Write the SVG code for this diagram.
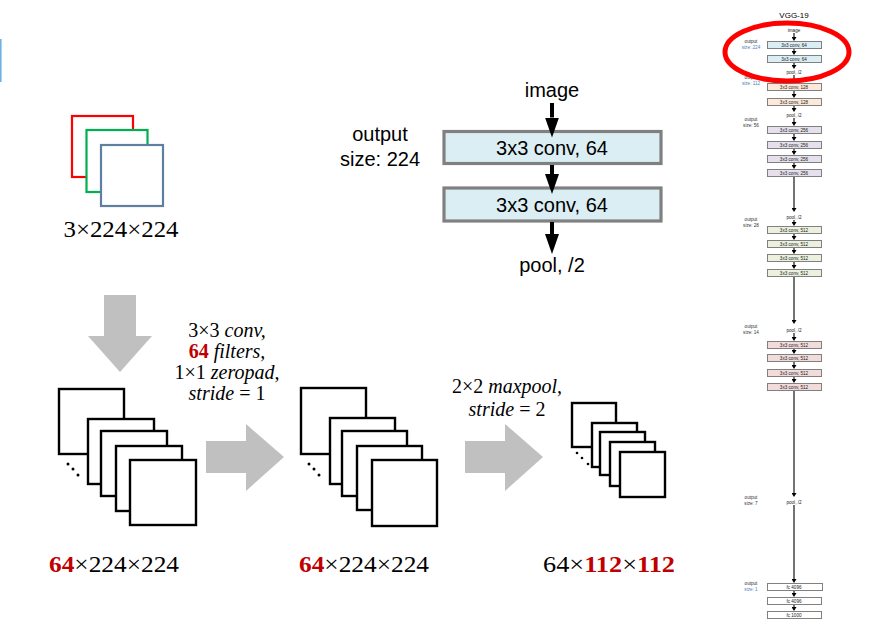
<svg xmlns="http://www.w3.org/2000/svg" width="885" height="625" viewBox="0 0 885 625">
<style>
.sq{fill:#fff;stroke:#000;stroke-width:2.4}
.big{fill:#c0c0c0}
.math{font-family:"Liberation Serif","DejaVu Serif",serif;font-size:20px;fill:#000;text-anchor:middle}
.it{font-style:italic}
.red{fill:#c00000;font-weight:bold}
.dim{font-family:"Liberation Serif","DejaVu Serif",serif;font-size:23px;fill:#000}
.sans{font-family:"Liberation Sans","Arial",sans-serif;fill:#000;text-anchor:middle}
.conv{fill:#dbeef4;stroke:#808080;stroke-width:3.2}
.s{font-family:"Liberation Sans","Arial",sans-serif;font-size:4.6px;fill:#222;text-anchor:middle}
.sl{font-family:"Liberation Sans","Arial",sans-serif;font-size:4.6px;fill:#333;text-anchor:middle}
.sb{stroke:#808080;stroke-width:1}
.c64{fill:#dbeef4}.c128{fill:#fde9d9}.c256{fill:#e5e0ec}.c512a{fill:#ebf1de}.c512b{fill:#f2dcdb}.fc{fill:#fff}
.ln{stroke:#000;stroke-width:4;fill:none}
.sln{stroke:#000;stroke-width:1.1;fill:none}
</style>
<defs>
<marker id="ah" viewBox="0 0 20 14" markerWidth="20" markerHeight="14" refX="0" refY="7" orient="auto" markerUnits="userSpaceOnUse"><path d="M0,0 L20,7 L0,14 Z" fill="#000"/></marker>
<marker id="sah" viewBox="0 0 4 5" markerWidth="4" markerHeight="5" refX="0" refY="2.5" orient="auto" markerUnits="userSpaceOnUse"><path d="M0,0 L4,2.5 L0,5 Z" fill="#000"/></marker>
</defs>

<rect x="0" y="39" width="1.6" height="43" fill="#72b2e2"/>

<g id="input-image">
<rect x="72" y="116" width="61" height="61" fill="none" stroke="#ff0000" stroke-width="2.2"/>
<rect x="86.5" y="130" width="61" height="62" fill="#fff" stroke="#00b050" stroke-width="2.2"/>
<rect x="101" y="145" width="62" height="61" fill="#fff" stroke="#5f7f9f" stroke-width="2.2"/>
<text class="dim" x="121" y="237" text-anchor="middle" textLength="115" lengthAdjust="spacingAndGlyphs">3×224×224</text>
</g>

<g id="conv-stack">
<rect class="sq" x="59" y="389" width="65" height="65"/>
<rect class="sq" x="88" y="419" width="66" height="65"/>
<rect class="sq" x="101" y="431" width="66" height="65"/>
<rect class="sq" x="116" y="446" width="66" height="65"/>
<rect class="sq" x="130" y="460" width="66" height="65"/>
<circle cx="68" cy="464" r="1.5"/><circle cx="73" cy="469" r="1.5"/><circle cx="78" cy="475" r="1.5"/>
<text class="dim" x="49" y="572" textLength="130" lengthAdjust="spacingAndGlyphs"><tspan class="red">64</tspan>×224×224</text>
</g>

<g id="conv-out-stack">
<rect class="sq" x="301" y="388" width="65" height="66"/>
<rect class="sq" x="330" y="418" width="65" height="66"/>
<rect class="sq" x="342" y="431" width="65" height="65"/>
<rect class="sq" x="357" y="446" width="65" height="64"/>
<rect class="sq" x="372" y="460" width="65" height="66"/>
<circle cx="309" cy="464" r="1.5"/><circle cx="314" cy="469" r="1.5"/><circle cx="319" cy="475" r="1.5"/>
<text class="dim" x="299" y="572" textLength="130" lengthAdjust="spacingAndGlyphs"><tspan class="red">64</tspan>×224×224</text>
</g>

<g id="pool-stack">
<rect class="sq" x="572" y="403" width="44" height="44"/>
<rect class="sq" x="592" y="423" width="45" height="44"/>
<rect class="sq" x="600" y="432" width="45" height="43"/>
<rect class="sq" x="610" y="442" width="45" height="44"/>
<rect class="sq" x="620" y="452" width="45" height="45"/>
<circle cx="577" cy="453" r="1.3"/><circle cx="582" cy="458" r="1.3"/><circle cx="588" cy="464" r="1.3"/>
<text class="dim" x="543" y="572" textLength="132" lengthAdjust="spacingAndGlyphs">64×<tspan class="red">112</tspan>×<tspan class="red">112</tspan></text>
</g>

<g id="big-arrows">
<polygon class="big" points="104,295 136,295 136,336 152,336 120,372 88,336 104,336"/>
<polygon class="big" points="206,441 246,441 246,424 284,457 246,491 246,473 206,473"/>
<polygon class="big" points="465,441 505,441 505,424 543,457 505,491 505,473 465,473"/>
</g>

<g id="conv-label">
<text class="math" x="227" y="337">3×3 <tspan class="it">conv,</tspan></text>
<text class="math" x="227" y="358"><tspan class="red">64</tspan> <tspan class="it">filters,</tspan></text>
<text class="math" x="227" y="379">1×1 <tspan class="it">zeropad,</tspan></text>
<text class="math" x="227" y="400"><tspan class="it">stride</tspan> = 1</text>
</g>

<g id="pool-label">
<text class="math" x="507" y="393">2×2 <tspan class="it">maxpool,</tspan></text>
<text class="math" x="507" y="416"><tspan class="it">stride</tspan> = 2</text>
</g>

<g id="block-detail">
<text class="sans" x="552" y="97" font-size="20">image</text>
<text class="sans" x="380" y="141" font-size="20">output</text>
<text class="sans" x="380" y="166" font-size="20">size: 224</text>
<g id="conv1"><rect class="conv" x="444" y="131.5" width="217" height="32"/>
<text class="sans" x="552" y="155" font-size="20">3x3 conv, 64</text></g>
<g id="conv2"><rect class="conv" x="444" y="188" width="217" height="33"/>
<text class="sans" x="552" y="212" font-size="20">3x3 conv, 64</text></g>
<text class="sans" x="552" y="272" font-size="20">pool, /2</text>
</g>
<g id="connectors">
<line class="ln" x1="552" y1="103" x2="552" y2="117.5" marker-end="url(#ah)"/>
<line class="ln" x1="552" y1="165" x2="552" y2="174" marker-end="url(#ah)"/>
<line class="ln" x1="552" y1="222" x2="552" y2="234" marker-end="url(#ah)"/>
</g>

<g id="vgg19">
<text class="sans" x="794" y="18" font-size="8">VGG-19</text>
<text class="s" x="794" y="32">image</text>
<g class="sl">
<text x="751" y="43">output</text><text x="751" y="48.5" fill="#4a7ebb">size: 224</text>
<text x="751" y="79">output</text><text x="751" y="85" fill="#4a7ebb">size: 112</text>
<text x="751" y="121">output</text><text x="751" y="127">size: 56</text>
<text x="751" y="221">output</text><text x="751" y="227">size: 28</text>
<text x="751" y="328">output</text><text x="751" y="334">size: 14</text>
<text x="751" y="499">output</text><text x="751" y="505">size: 7</text>
<text x="751" y="585">output</text><text x="751" y="591" fill="#4a7ebb">size: 1</text>
</g>
<g id="v-c64a"><rect class="sb c64" x="767.5" y="41.5" width="54" height="7"/><text class="s" x="794" y="46.6">3x3 conv, 64</text></g>
<g id="v-c64b"><rect class="sb c64" x="767.5" y="55.5" width="54" height="7"/><text class="s" x="794" y="60.6">3x3 conv, 64</text></g>
<text class="s" x="794" y="73.5">pool, /2</text>
<g id="v-c128a"><rect class="sb c128" x="767.5" y="83.5" width="54" height="7"/><text class="s" x="794" y="88.6">3x3 conv, 128</text></g>
<g id="v-c128b"><rect class="sb c128" x="767.5" y="98.5" width="54" height="7"/><text class="s" x="794" y="103.6">3x3 conv, 128</text></g>
<text class="s" x="794" y="116.5">pool, /2</text>
<g id="v-c256a"><rect class="sb c256" x="767.5" y="126.5" width="54" height="7"/><text class="s" x="794" y="131.6">3x3 conv, 256</text></g>
<g id="v-c256b"><rect class="sb c256" x="767.5" y="141.5" width="54" height="7"/><text class="s" x="794" y="146.6">3x3 conv, 256</text></g>
<g id="v-c256c"><rect class="sb c256" x="767.5" y="155.5" width="54" height="7"/><text class="s" x="794" y="160.6">3x3 conv, 256</text></g>
<g id="v-c256d"><rect class="sb c256" x="767.5" y="169.5" width="54" height="7"/><text class="s" x="794" y="174.6">3x3 conv, 256</text></g>
<text class="s" x="794" y="218.5">pool, /2</text>
<g id="v-c512a"><rect class="sb c512a" x="767.5" y="226.5" width="54" height="7"/><text class="s" x="794" y="231.6">3x3 conv, 512</text></g>
<g id="v-c512b"><rect class="sb c512a" x="767.5" y="240.5" width="54" height="7"/><text class="s" x="794" y="245.6">3x3 conv, 512</text></g>
<g id="v-c512c"><rect class="sb c512a" x="767.5" y="254.5" width="54" height="7"/><text class="s" x="794" y="259.6">3x3 conv, 512</text></g>
<g id="v-c512d"><rect class="sb c512a" x="767.5" y="269.5" width="54" height="7"/><text class="s" x="794" y="274.6">3x3 conv, 512</text></g>
<text class="s" x="794" y="331.5">pool, /2</text>
<g id="v-c512e"><rect class="sb c512b" x="767.5" y="341.5" width="54" height="7"/><text class="s" x="794" y="346.6">3x3 conv, 512</text></g>
<g id="v-c512f"><rect class="sb c512b" x="767.5" y="354.5" width="54" height="7"/><text class="s" x="794" y="359.6">3x3 conv, 512</text></g>
<g id="v-c512g"><rect class="sb c512b" x="767.5" y="369.5" width="54" height="7"/><text class="s" x="794" y="374.6">3x3 conv, 512</text></g>
<g id="v-c512h"><rect class="sb c512b" x="767.5" y="383.5" width="54" height="7"/><text class="s" x="794" y="388.6">3x3 conv, 512</text></g>
<text class="s" x="794" y="503.5" fill="#4a7ebb">pool, /2</text>
<g id="v-fc1"><rect class="sb fc" x="767.5" y="583.5" width="55" height="7"/><text class="s" x="794" y="588.6">fc 4096</text></g>
<g id="v-fc2"><rect class="sb fc" x="767.5" y="597.5" width="54" height="7"/><text class="s" x="794" y="602.6">fc 4096</text></g>
<g id="v-fc3"><rect class="sb fc" x="767.5" y="611.5" width="54" height="7"/><text class="s" x="794" y="616.6">fc 1000</text></g>
</g>
<g id="vgg-connectors">
<line class="sln" x1="794" y1="33" x2="794" y2="37" marker-end="url(#sah)"/>
<line class="sln" x1="794" y1="49" x2="794" y2="51" marker-end="url(#sah)"/>
<line class="sln" x1="794" y1="63" x2="794" y2="65" marker-end="url(#sah)"/>
<line class="sln" x1="794" y1="75" x2="794" y2="79" marker-end="url(#sah)"/>
<line class="sln" x1="794" y1="91" x2="794" y2="94" marker-end="url(#sah)"/>
<line class="sln" x1="794" y1="106" x2="794" y2="108" marker-end="url(#sah)"/>
<line class="sln" x1="794" y1="118" x2="794" y2="122" marker-end="url(#sah)"/>
<line class="sln" x1="794" y1="134" x2="794" y2="137" marker-end="url(#sah)"/>
<line class="sln" x1="794" y1="149" x2="794" y2="151" marker-end="url(#sah)"/>
<line class="sln" x1="794" y1="163" x2="794" y2="165" marker-end="url(#sah)"/>
<line class="sln" x1="794" y1="177" x2="794" y2="208" marker-end="url(#sah)"/>
<line class="sln" x1="794" y1="220" x2="794" y2="222" marker-end="url(#sah)"/>
<line class="sln" x1="794" y1="234" x2="794" y2="236" marker-end="url(#sah)"/>
<line class="sln" x1="794" y1="248" x2="794" y2="250" marker-end="url(#sah)"/>
<line class="sln" x1="794" y1="262" x2="794" y2="265" marker-end="url(#sah)"/>
<line class="sln" x1="794" y1="277" x2="794" y2="320" marker-end="url(#sah)"/>
<line class="sln" x1="794" y1="333" x2="794" y2="337" marker-end="url(#sah)"/>
<line class="sln" x1="794" y1="349" x2="794" y2="350" marker-end="url(#sah)"/>
<line class="sln" x1="794" y1="362" x2="794" y2="365" marker-end="url(#sah)"/>
<line class="sln" x1="794" y1="377" x2="794" y2="379" marker-end="url(#sah)"/>
<line class="sln" x1="794" y1="391" x2="794" y2="493" marker-end="url(#sah)"/>
<line class="sln" x1="794" y1="505" x2="794" y2="579" marker-end="url(#sah)"/>
<line class="sln" x1="794" y1="591" x2="794" y2="593" marker-end="url(#sah)"/>
<line class="sln" x1="794" y1="605" x2="794" y2="607" marker-end="url(#sah)"/>
</g>

<ellipse id="highlight" cx="787" cy="52" rx="62" ry="29" fill="none" stroke="#ff0000" stroke-width="5"/>
</svg>
